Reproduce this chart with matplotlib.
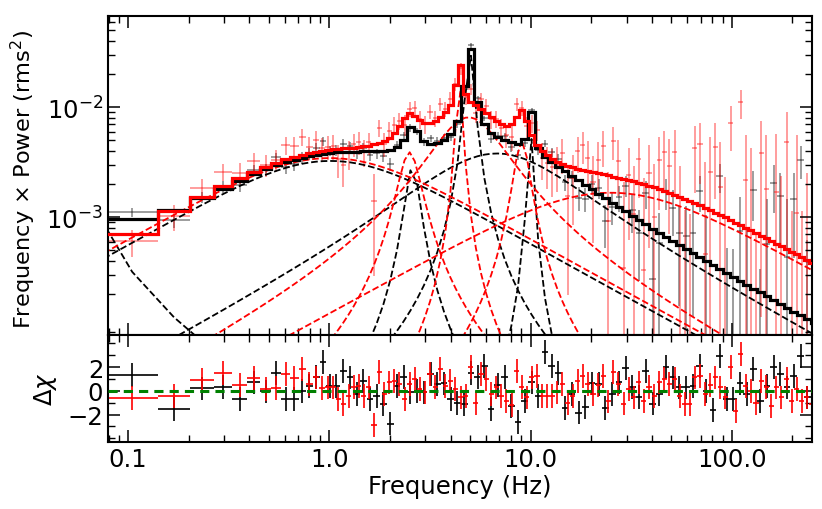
import numpy as np
import matplotlib
matplotlib.use('Agg')
import matplotlib.pyplot as plt
from matplotlib.ticker import FixedLocator, FixedFormatter, LogLocator, NullFormatter

plt.rcParams.update({'font.family': 'DejaVu Sans', 'font.size': 17.5,
                     'mathtext.fontset': 'dejavusans', 'axes.linewidth': 1.5})

DF = 0.0625  # frequency resolution of one segment (Hz)

# frequency bin edges (Hz)
black_edges = [0.078, 0.141, 0.203, 0.266, 0.328, 0.391, 0.453, 0.516, 0.578, 0.641, 0.703, 0.766,
               0.828, 0.894, 0.966, 1.043, 1.127, 1.217, 1.314, 1.419, 1.533, 1.656, 1.788, 1.931,
               2.086, 2.252, 2.433, 2.627, 2.837, 3.064, 3.310, 3.574, 3.860, 4.169, 4.503, 4.863,
               5.252, 5.672, 6.126, 6.616, 7.145, 7.717, 8.334, 9.001, 9.721, 10.50, 11.34, 12.25,
               13.23, 14.28, 15.42, 16.66, 17.99, 19.43, 20.98, 22.66, 24.48, 26.43, 28.55, 30.83,
               33.30, 35.96, 38.84, 41.95, 45.30, 48.93, 52.84, 57.07, 61.63, 66.57, 71.89, 77.64,
               83.85, 90.56, 97.81, 105.6, 114.1, 123.2, 133.1, 143.7, 155.2, 167.6, 181.0, 195.5,
               211.2, 228.1, 246.3, 266.0]
red_edges = [0.078, 0.141, 0.203, 0.266, 0.328, 0.391, 0.453, 0.516, 0.578, 0.641, 0.703, 0.766,
             0.828, 0.891, 0.953, 1.016, 1.077, 1.141, 1.210, 1.283, 1.360, 1.441, 1.528, 1.619,
             1.716, 1.819, 1.929, 2.044, 2.167, 2.297, 2.435, 2.581, 2.735, 2.900, 3.074, 3.258,
             3.453, 3.661, 3.880, 4.113, 4.360, 4.621, 4.899, 5.193, 5.504, 5.834, 6.185, 6.556,
             6.949, 7.366, 7.808, 8.277, 8.773, 9.300, 9.858, 10.45, 11.08, 11.74, 12.44, 13.19,
             13.98, 14.82, 15.71, 16.65, 17.65, 18.71, 19.83, 21.02, 22.28, 23.62, 25.04, 26.54,
             28.13, 29.82, 31.61, 33.51, 35.52, 37.65, 39.91, 42.30, 44.84, 47.53, 50.38, 53.41,
             56.61, 60.01, 63.61, 67.42, 71.47, 75.76, 80.30, 85.12, 90.23, 95.64, 101.4, 107.5,
             113.9, 120.7, 128.0, 135.7, 143.8, 152.4, 161.6, 171.3, 181.5, 192.4, 204.0, 216.2,
             229.2, 242.9, 257.5]

# residuals (delta chi) per bin
black_resid = [1.36, -1.55, 0.2, 0.29, -0.7, 0.7, -0.05, 1.47, -0.7, -0.7, 0.0, 0.42,
               1.19, 2.4, 0.4, 0.42, 1.69, 1.13, -0.28, 0.8, -0.7, -0.42, -1.13, -2.76, 0.42,
               1.19, -0.14, 0.0, -0.14, 1.41, 0.57, 0.62, -0.7,
               -1.0, -1.13, 1.47, 1.19, 2.1, -1.55, 0.5, 1.19, -1.27, -2.6, -0.85, 0.7, -0.42,
               3.25, 2.07, 1.47, -1.47, -0.28, -1.83, -1.36, 0.62, 0.57, -1.47, -0.28, 0.7, 1.9,
               0.3, -0.5, 1.69, -1.07, -0.28, 1.98, 1.13, 0.28, 0.28, 0.42, 2.1, 0.0, -1.64, 2.9,
               -0.7, -0.7, 0.62, -0.3, 1.84, -0.85, 0.42, 1.98, 1.41, 0.28, 1.27, 2.9, -0.56, 0.5]
red_resid = [-0.62, -0.42, 0.9, 1.47, 0.5, 1.05, 0.15, 0.23, 1.4, 1.07, 1.84, 0.57, 1.13, 0.23, 0.28,
             0.28, -0.7, -1.13, -0.42, 0.3, 0.42, -0.42, 0.28, -2.9, 1.56, -0.28, 0.7, 0.85, 0.57,
             -0.7, 0.57, 1.0, 0.14, -0.14, 1.4, 0.3, 1.84, 0.42, 0.85,
             0.14, -0.56, -0.42, 1.98, -1.0, 1.41, 1.0, -0.28, 0.28, -0.42, -0.85, -1.19, 1.69,
             0.3, -0.56, 1.13, 1.27, -0.42, -0.42, -0.42, -0.14, 0.57, -1.0, -0.42, 0.85, 1.27,
             0.57, -0.3, 0.5, 1.27, -0.9, 1.56, 0.57, -1.07,
             0.14, -0.56, 0.7, -0.85, 0.3, -0.42, 0.7, 1.0, 0.57, 1.0, -0.42, -1.13, -1.13, 1.13,
             1.27, -0.28, 0.5, 1.13, 0.28, -0.56, 1.98, -1.7, 3.1, 0.4, 0.0, -1.0, 0.85, 0.3,
             -1.27, 0.28, -0.56, 1.0, -0.85, 0.14, -0.85, -0.56, -1.13]

# Lorentzian components: centroid (Hz), half width (Hz), peak of f*P (rms^2)
black_f0 = [0.045, 0.15, 4.0, 2.58, 4.98, 10.0]
black_hw = [0.012, 1.0, 5.5, 0.21, 0.23, 0.30]
black_pk = [3.6e-3, 3.25e-3, 3.8e-3, 2.9e-3, 0.032, 5.7e-3]
red_f0 = [0.10, 2.48, 4.5, 4.42, 9.0, 0.0]
red_hw = [1.0, 0.33, 2.0, 0.15, 0.8, 25.0]
red_pk = [3.45e-3, 3.9e-3, 8.1e-3, 0.017, 5.0e-3, 1.67e-3]

# counting statistics: number of averaged segments, white-noise level (rms^2/Hz)
black_nseg, black_noise = 83, 7.5e-4
red_nseg, red_noise = 28, 1.6e-3


def lorentz(f, f0, hw, pk):
    f = np.asarray(f, float)
    shape = lambda x: x / (hw ** 2 + (x - f0) ** 2)
    return pk * shape(f) / shape(np.sqrt(hw ** 2 + f0 ** 2))


def spectrum(edges, f0s, hws, pks, resid, nseg, noise):
    e = np.array(edges)
    lo, hi = e[:-1], e[1:]
    fc = np.sqrt(lo * hi)
    comps = [lorentz(fc, a, b, c) for a, b, c in zip(f0s, hws, pks)]
    total = np.sum(comps, axis=0)
    sig = (total + noise * fc) / np.sqrt(nseg * (hi - lo) / DF)
    data = total + np.array(resid) * sig
    return e, lo, hi, fc, total, sig, data


fig = plt.figure(figsize=(8.22, 5.10), dpi=100)
ax = fig.add_axes([0.1314, 0.3412, 0.8564, 0.6255])
ax2 = fig.add_axes([0.1314, 0.1314, 0.8564, 0.2098], sharex=ax)

sets = [('k', black_edges, black_f0, black_hw, black_pk, black_resid, black_nseg, black_noise),
        ('red', red_edges, red_f0, red_hw, red_pk, red_resid, red_nseg, red_noise)]

for col, edges, f0s, hws, pks, resid, nseg, noise in sets:
    e, lo, hi, fc, total, sig, data = spectrum(edges, f0s, hws, pks, resid, nseg, noise)
    ax.errorbar(fc, data, yerr=sig, xerr=[fc - lo, hi - fc], fmt='none',
                ecolor=col, alpha=0.45, elinewidth=1.2, zorder=1)
    fline = np.concatenate([[DF], fc])
    for a, b, c in zip(f0s, hws, pks):
        ax.plot(fline, lorentz(fline, a, b, c), color=col, ls='--', lw=1.3, zorder=2)
    ax2.errorbar(fc, resid, yerr=1.0, xerr=[fc - lo, hi - fc], fmt='none',
                 ecolor=col, elinewidth=1.2, zorder=2)

for col, edges, f0s, hws, pks, resid, nseg, noise in sets:
    e, lo, hi, fc, total, sig, data = spectrum(edges, f0s, hws, pks, resid, nseg, noise)
    ax.stairs(total, e, baseline=None, color=col, lw=2.3, zorder=3)

ax2.axhline(0, color='green', ls=(0, (3, 2)), lw=2.2, zorder=5)

ax.set_xscale('log')
ax.set_yscale('log', nonpositive='clip')
ax.set_xlim(0.0795, 250)
ax.set_ylim(8.5e-5, 0.0676)
ax2.set_ylim(-4.31, 4.7)

ax.yaxis.set_major_locator(FixedLocator([1e-3, 1e-2]))
ax.yaxis.set_minor_locator(LogLocator(base=10, subs=np.arange(2, 10)))
ax.yaxis.set_minor_formatter(NullFormatter())
ax2.xaxis.set_major_locator(FixedLocator([0.1, 1, 10, 100]))
ax2.xaxis.set_major_formatter(FixedFormatter(['0.1', '1.0', '10.0', '100.0']))
ax2.xaxis.set_minor_locator(LogLocator(base=10, subs=np.arange(2, 10)))
ax2.xaxis.set_minor_formatter(NullFormatter())
ax2.yaxis.set_major_locator(FixedLocator([-2, 0, 2]))
ax2.yaxis.set_minor_locator(FixedLocator([-4, -3, -1, 1, 3, 4]))
plt.setp(ax.get_xticklabels(), visible=False)

for a in (ax, ax2):
    a.tick_params(which='both', direction='in', top=True, right=True)
    a.tick_params(which='major', length=8.5, width=1.1)
    a.tick_params(which='minor', length=5, width=1.0)

ax.set_ylabel('Frequency × Power (rms$^2$)', fontsize=16.2)
ax.yaxis.set_label_coords(-0.099, 0.49)
ax2.set_ylabel(r'$\Delta\chi$')
ax2.yaxis.set_label_coords(-0.069, 0.5)
ax2.set_xlabel('Frequency (Hz)', labelpad=2)

fig.savefig('out.png', dpi=100, facecolor='white')
